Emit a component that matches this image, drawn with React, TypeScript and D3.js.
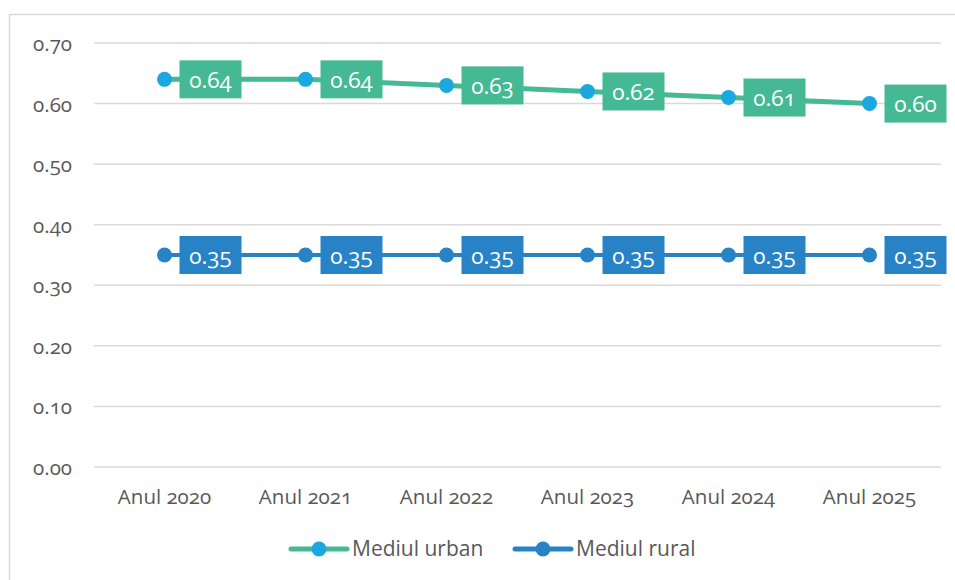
import React from "react";
import * as d3 from "d3";

const categories = ["Anul 2020", "Anul 2021", "Anul 2022", "Anul 2023", "Anul 2024", "Anul 2025"];
const urbanValues = [0.64, 0.64, 0.63, 0.62, 0.61, 0.6];
const ruralValues = [0.35, 0.35, 0.35, 0.35, 0.35, 0.35];
const yTicks = [0, 0.1, 0.2, 0.3, 0.4, 0.5, 0.6, 0.7];
const seriesNames = ["Mediul urban", "Mediul rural"];

const W = 955;
const H = 580;
const FONT = "'Open Sans', 'Noto Sans', sans-serif";

const GREEN = "#45b994";
const URBAN_DOT = "#1ba8e0";
const BLUE = "#2883c6";
const TEXT = "#595959";
const ONUM = { fontFeatureSettings: "'onum'" };

export default function App() {
  const x = d3.scaleBand<string>().domain(categories).range([94, 940]);
  const y = d3.scaleLinear().domain([0, 0.7]).range([467, 43]);
  const cx = (c: string) => (x(c) ?? 0) + x.bandwidth() / 2;
  const line = d3
    .line<number>()
    .x((_, i) => cx(categories[i]))
    .y((d) => y(d));

  const series = [
    { name: seriesNames[0], values: urbanValues, stroke: GREEN, dot: URBAN_DOT, width: 5, box: GREEN },
    { name: seriesNames[1], values: ruralValues, stroke: BLUE, dot: BLUE, width: 4, box: BLUE },
  ];

  return (
    <svg
      width={W}
      height={H}
      style={{ position: "absolute", left: 0, top: 0, background: "#fff" }}
      fontFamily={FONT}
    >
      {/* chart frame */}
      <path d={`M9.5,${H} V14.5 H${W}`} fill="none" stroke="#d9d9d9" strokeWidth={1.5} />

      {/* gridlines and y labels */}
      {yTicks.map((t) => (
        <g key={t}>
          <line x1={94} x2={941} y1={y(t)} y2={y(t)} stroke="#d9d9d9" strokeWidth={1.5} />
          <text
            x={72}
            y={y(t)}
            textAnchor="end"
            dominantBaseline="central"
            fontSize={20.5}
            fill={TEXT}
            style={ONUM}
          >
            {t.toFixed(2)}
          </text>
        </g>
      ))}

      {/* category labels */}
      {categories.map((c) => (
        <text
          key={c}
          x={cx(c)}
          y={496}
          textAnchor="middle"
          dominantBaseline="central"
          fontSize={20.5}
          fill={TEXT}
          style={ONUM}
        >
          {c}
        </text>
      ))}

      {/* series lines, markers and value boxes */}
      {series.map((s) => (
        <g key={s.name}>
          <path d={line(s.values) ?? ""} fill="none" stroke={s.stroke} strokeWidth={s.width} />
          {s.values.map((v, i) => (
            <circle key={i} cx={cx(categories[i])} cy={y(v)} r={7.5} fill={s.dot} />
          ))}
          {s.values.map((v, i) => {
            const bx = cx(categories[i]) + 15;
            const by = y(v) - 19;
            return (
              <g key={"l" + i}>
                <rect x={bx} y={by} width={62} height={38} fill={s.box} />
                <text
                  x={bx + 31}
                  y={by + 19}
                  textAnchor="middle"
                  dominantBaseline="central"
                  fontSize={22.5}
                  fill="#fff"
                  style={ONUM}
                >
                  {v.toFixed(2)}
                </text>
              </g>
            );
          })}
        </g>
      ))}

      {/* legend */}
      {series.map((s, i) => {
        const lx = i === 0 ? 291 : 515;
        return (
          <g key={"lg" + s.name}>
            <line x1={lx} x2={lx + 56} y1={549} y2={549} stroke={s.stroke} strokeWidth={5} strokeLinecap="round" />
            <circle cx={lx + 28} cy={549} r={7.5} fill={s.dot} />
            <text x={lx + 61} y={548} dominantBaseline="central" fontSize={21} fill={TEXT}>
              {s.name}
            </text>
          </g>
        );
      })}
    </svg>
  );
}
